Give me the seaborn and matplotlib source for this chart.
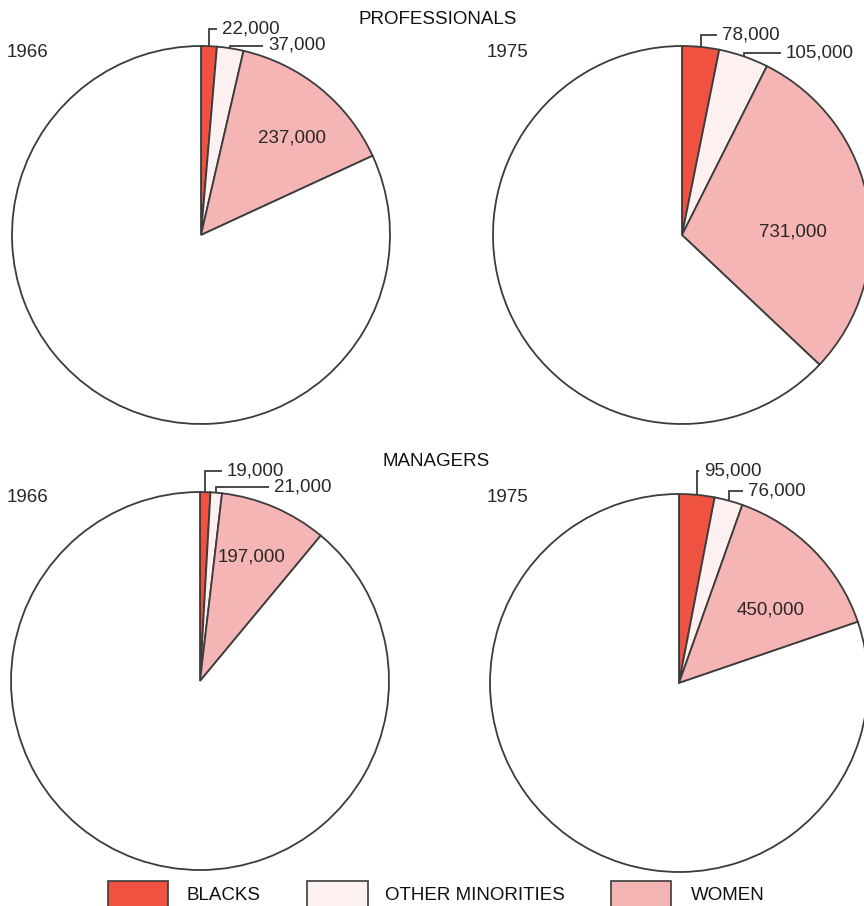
import matplotlib
matplotlib.use("Agg")
import matplotlib.pyplot as plt
import seaborn as sns
import numpy as np
from matplotlib.patches import Rectangle

sns.set_theme(style="white")
plt.rcParams['font.family'] = ['Liberation Sans', 'DejaVu Sans']

# ---- data -------------------------------------------------------------
groups = ["BLACKS", "OTHER MINORITIES", "WOMEN"]
group_colors = ["#ef5241", "#fdf0f0", "#f5b5b5"]
rest_color = "#ffffff"

professionals_1966 = [22000, 37000, 237000]
professionals_1975 = [78000, 105000, 731000]
managers_1966 = [19000, 21000, 197000]
managers_1975 = [95000, 76000, 450000]

# everybody else in the occupation (white men)
rest_professionals_1966 = 1338000
rest_professionals_1975 = 1554000
rest_managers_1966 = 1912000
rest_managers_1975 = 2523000

years = ["1966", "1975"]
section_titles = ["PROFESSIONALS", "MANAGERS"]

# ---- layout (pixel coordinates, y measured from the top) --------------
W, H = 864, 906
R = 189
INK = "#2b2626"
EDGE = "#3c3c3c"
FS = 13.5

fig = plt.figure(figsize=(W / 100, H / 100), dpi=100)
ax = fig.add_axes([0, 0, 1, 1])


def Y(y):
    return H - y


def fmt(v):
    return f"{v:,}"


pies = [
    dict(vals=professionals_1966, rest=rest_professionals_1966, c=(201, 235),
         inner=(292, 138),
         outer=[(222, 29), (268, 45.5)]),
    dict(vals=professionals_1975, rest=rest_professionals_1975, c=(682, 235),
         inner=(793, 232),
         outer=[(722, 34.5), (786, 53)]),
    dict(vals=managers_1966, rest=rest_managers_1966, c=(200, 681),
         inner=(252, 557),
         outer=[(227, 471), (274, 487)]),
    dict(vals=managers_1975, rest=rest_managers_1975, c=(679, 683),
         inner=(771, 610),
         outer=[(704, 471), (748, 491)]),
]

for p in pies:
    cx, cy = p["c"]
    wedges, _ = ax.pie(
        p["vals"] + [p["rest"]],
        colors=group_colors + [rest_color],
        startangle=90, counterclock=False,
        center=(cx, Y(cy)), radius=R,
        wedgeprops=dict(edgecolor=EDGE, linewidth=1.3),
        frame=True,
    )
    # value inside the women slice
    ax.text(p["inner"][0], Y(p["inner"][1]), fmt(p["vals"][2]),
            ha="center", va="center", fontsize=FS, color=INK)
    # bracket leaders for the two small slices
    for w, v, (tx, ty) in zip(wedges[:2], p["vals"][:2], p["outer"]):
        mid = np.deg2rad((w.theta1 + w.theta2) / 2)
        ex = cx + R * np.cos(mid)
        ey = cy - R * np.sin(mid)
        ax.plot([ex, ex, tx - 5], [Y(ey), Y(ty), Y(ty)],
                color=EDGE, lw=1.3, solid_joinstyle="miter",
                solid_capstyle="butt")
        ax.text(tx, Y(ty), fmt(v), ha="left", va="center",
                fontsize=FS, color=INK)

# section titles and year labels
ax.text(438, Y(19.5), section_titles[0], ha="center", va="center",
        fontsize=FS, color="#111111")
ax.text(436, Y(462), section_titles[1], ha="center", va="center",
        fontsize=FS, color="#111111")
for yy in (52.5, 497):
    ax.text(7, Y(yy), years[0], ha="left", va="center", fontsize=FS, color=INK)
    ax.text(487, Y(yy), years[1], ha="left", va="center", fontsize=FS, color=INK)

# legend
legend_boxes = [(108, 168), (307, 368), (611, 671)]
legend_text_x = [187, 385, 691]
for (x0, x1), tx, name, col in zip(legend_boxes, legend_text_x, groups,
                                    group_colors):
    ax.add_patch(Rectangle((x0, Y(920)), x1 - x0, 920 - 881,
                           facecolor=col, edgecolor=EDGE, lw=1.2))
    ax.text(tx, Y(896), name, ha="left", va="center", fontsize=FS,
            color="#111111")

ax.set_xlim(0, W)
ax.set_ylim(0, H)
ax.set_aspect("equal")
ax.axis("off")

fig.savefig("out.png", dpi=100, facecolor="white")
